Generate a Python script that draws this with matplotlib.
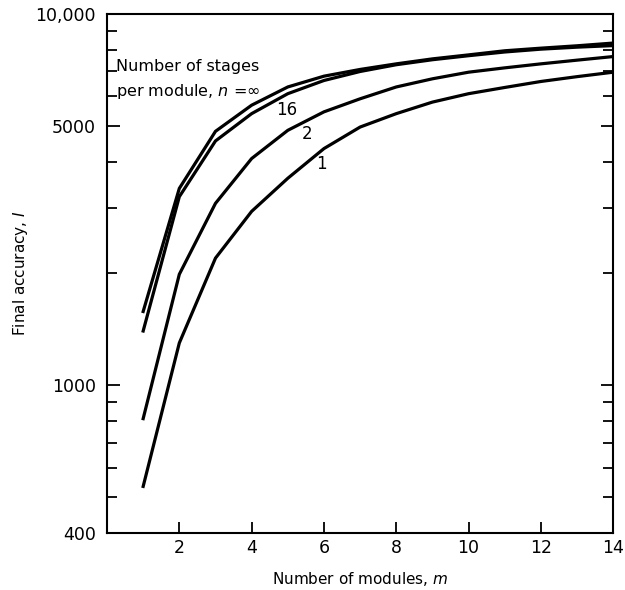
import matplotlib.pyplot as plt
from matplotlib.ticker import FixedLocator, NullFormatter

# number of modules m
modules = list(range(1, 15))

# final accuracy I for each number of stages per module n
acc_inf = [1580, 3390, 4830, 5680, 6360, 6800, 7090, 7340, 7570, 7760, 7960, 8090, 8210, 8350]
acc_16 = [1400, 3220, 4550, 5390, 6100, 6620, 7000, 7300, 7530, 7720, 7900, 8040, 8140, 8220]
acc_2 = [813, 1990, 3090, 4080, 4860, 5450, 5910, 6360, 6690, 6970, 7160, 7340, 7510, 7680]
acc_1 = [534, 1300, 2200, 2940, 3610, 4340, 4960, 5390, 5790, 6100, 6340, 6580, 6780, 6970]

x_ticks = [2, 4, 6, 8, 10, 12, 14]
y_ticks = [400, 1000, 5000, 10000]
y_tick_labels = ['400', '1000', '5000', '10,000']
y_minor = [500, 600, 700, 800, 900, 2000, 3000, 4000, 6000, 7000, 8000, 9000]

fig = plt.figure(figsize=(6.25, 5.9), dpi=100)
ax = fig.add_axes([0.1712, 0.0966, 0.81, 0.8797])

for acc in (acc_inf, acc_16, acc_2, acc_1):
    ax.plot(modules, acc, color='black', lw=2.3, solid_joinstyle='miter')

ax.set_yscale('log')
ax.set_xlim(0, 14)
ax.set_ylim(400, 10000)

ax.set_xticks(x_ticks)
ax.set_xticklabels([str(t) for t in x_ticks])
ax.yaxis.set_major_locator(FixedLocator(y_ticks))
ax.set_yticklabels(y_tick_labels)
ax.yaxis.set_minor_locator(FixedLocator(y_minor))
ax.yaxis.set_minor_formatter(NullFormatter())

ax.tick_params(axis='both', which='both', direction='in', labelsize=12.5, width=1.3)
ax.tick_params(axis='y', which='both', left=True, right=True)
ax.tick_params(axis='y', which='major', length=9, pad=8)
ax.tick_params(axis='y', which='minor', length=7)
ax.tick_params(axis='x', which='major', length=8, pad=4, top=False)

for s in ax.spines.values():
    s.set_linewidth(1.5)

ax.set_xlabel('Number of modules, $m$', fontsize=11, labelpad=10)
ax.set_ylabel('Final accuracy, $I$', fontsize=11, labelpad=4)

ax.text(0.24, 6650, 'Number of stages\nper module, $n$ =∞', fontsize=11.5,
        va='center', ha='left', linespacing=1.55)
ax.text(4.96, 5512, '16', fontsize=12, ha='center', va='center')
ax.text(5.53, 4760, '2', fontsize=12, ha='center', va='center')
ax.text(5.94, 3934, '1', fontsize=12, ha='center', va='center')

fig.savefig('out.png', dpi=100)
